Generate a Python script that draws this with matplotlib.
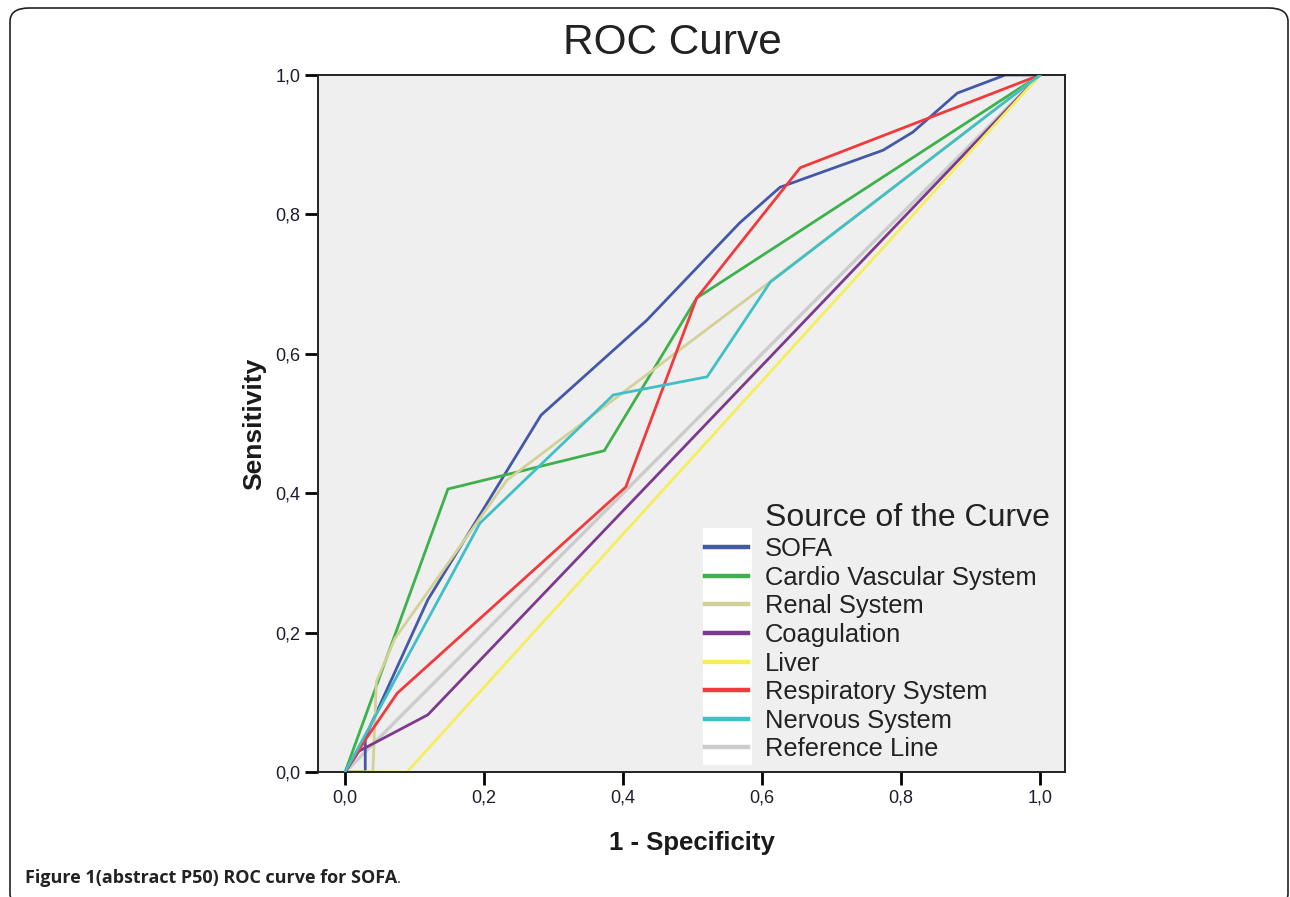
import matplotlib
matplotlib.use("Agg")
import matplotlib.pyplot as plt
from matplotlib.patches import FancyBboxPatch, Rectangle
from matplotlib.ticker import FuncFormatter

# ── 数据 ─────────────────────────────────
labels = ["SOFA", "Cardio Vascular System", "Renal System", "Coagulation",
          "Liver", "Respiratory System", "Nervous System", "Reference Line"]
colors = ["#4358a8", "#3db14b", "#d3d197", "#7c3a8d",
          "#f5ee5c", "#f23a3c", "#3fbfc6", "#cccccc"]

sofa_x = [0.0, 0.029, 0.029, 0.119, 0.282, 0.434, 0.568, 0.626, 0.774, 0.817, 0.881, 0.950, 1.0]
sofa_y = [0.0, 0.0, 0.05, 0.247, 0.512, 0.648, 0.788, 0.839, 0.892, 0.918, 0.974, 1.0, 1.0]
cardio_x = [0.0, 0.148, 0.373, 0.506, 1.0]
cardio_y = [0.0, 0.406, 0.461, 0.680, 1.0]
renal_x = [0.0, 0.04, 0.045, 0.072, 0.233, 0.607, 1.0]
renal_y = [0.0, 0.0, 0.13, 0.192, 0.419, 0.700, 1.0]
coag_x = [0.0, 0.02, 0.119, 1.0]
coag_y = [0.0, 0.03, 0.082, 1.0]
liver_x = [0.0, 0.089, 1.0]
liver_y = [0.0, 0.0, 1.0]
resp_x = [0.0, 0.029, 0.075, 0.404, 0.506, 0.655, 1.0]
resp_y = [0.0, 0.046, 0.113, 0.409, 0.680, 0.867, 1.0]
nerv_x = [0.0, 0.194, 0.386, 0.521, 0.612, 1.0]
nerv_y = [0.0, 0.357, 0.541, 0.567, 0.703, 1.0]
ref_x = [0.0, 1.0]
ref_y = [0.0, 1.0]

curves = [(sofa_x, sofa_y), (cardio_x, cardio_y), (renal_x, renal_y),
          (coag_x, coag_y), (liver_x, liver_y), (resp_x, resp_y),
          (nerv_x, nerv_y), (ref_x, ref_y)]

ticks = [0.0, 0.2, 0.4, 0.6, 0.8, 1.0]

plt.rcParams['font.family'] = ['Liberation Sans', 'DejaVu Sans']

W, H = 1290, 897
fig = plt.figure(figsize=(W / 100, H / 100), dpi=100)

# 外框（圆角）
frame = FancyBboxPatch((10 / W, -10 / H), 1278 / W, (H - 8 + 10) / H,
                       boxstyle="round,pad=0,rounding_size=0.015",
                       transform=fig.transFigure, facecolor="white",
                       edgecolor="#222222", linewidth=1.2, zorder=-10)
fig.patches.append(frame)

ax = fig.add_axes([318 / W, 1 - 772 / H, (1065 - 318) / W, (772 - 75) / H])
ax.set_facecolor("#f0efef")
ax.set_xlim(-0.039, 1.036)
ax.set_ylim(0, 1)

handles = []
for i, ((xs, ys), lab, col) in enumerate(zip(curves, labels, colors)):
    z = 1 if lab == "Reference Line" else 2 + i * 0.1
    lw = 2.4 if lab == "Reference Line" else 2.0
    (ln,) = ax.plot(xs, ys, color=col, lw=lw, label=lab, zorder=z,
                    solid_joinstyle="miter")
    handles.append(ln)

for s in ax.spines.values():
    s.set_linewidth(1.4)
    s.set_color("#222222")

fmt = FuncFormatter(lambda v, p: f"{v:.1f}".replace(".", ","))
ax.set_xticks(ticks)
ax.set_yticks(ticks)
ax.xaxis.set_major_formatter(fmt)
ax.yaxis.set_major_formatter(fmt)
ax.tick_params(direction="out", length=9.5, width=2, labelsize=13,
               labelcolor="#1c1c2c", pad=3)

ax.set_xlabel("1 - Specificity", fontsize=18.5, fontweight="bold", labelpad=18,
              color="#1a1a1a")
ax.set_ylabel("Sensitivity", fontsize=19, fontweight="bold", labelpad=7,
              color="#1a1a1a")
fig.text(672 / W, 1 - 43 / H, "ROC Curve", fontsize=30.5, ha="center", va="center",
         color="#222222")

# 图例
ax.add_patch(Rectangle((0.515, 0.01), 0.066, 0.34, transform=ax.transAxes,
                       facecolor="white", edgecolor="none", zorder=5))
ax.text(0.599, 0.365, "Source of the Curve", transform=ax.transAxes,
        fontsize=23, va="center", ha="left", color="#222222", zorder=6)
leg = ax.legend(handles=handles, loc="upper left", bbox_to_anchor=(0.518, 0.337),
                frameon=False, fontsize=18.4, handlelength=1.68, handletextpad=0.66,
                labelspacing=0.18, borderpad=0, borderaxespad=0)
leg.set_zorder(7)
for ln in leg.get_lines():
    ln.set_linewidth(3.2)
for t in leg.get_texts():
    t.set_color("#222222")

# 图注
cap = fig.text(25 / W, 1 - 878 / H, "Figure 1(abstract P50) ROC curve for SOFA",
               family=["Open Sans", "DejaVu Sans"], fontweight="bold", fontsize=13,
               va="center", ha="left", color="#222222")
ax.annotate(".", xy=(1, 0), xycoords=cap, va="bottom", ha="left",
            family=["Open Sans", "DejaVu Sans"], fontsize=11,
            color="#222222", annotation_clip=False)

fig.savefig("out.png", dpi=100)
